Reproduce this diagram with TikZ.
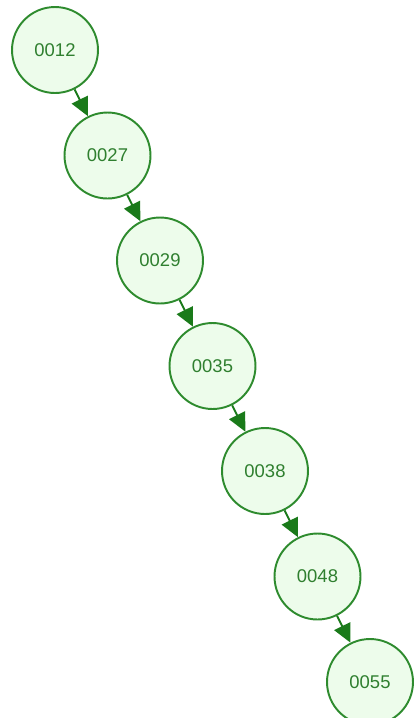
\documentclass[tikz,border=0pt]{standalone}
\usepackage{fontspec}
\setmainfont{Liberation Sans}
\usetikzlibrary{arrows.meta}
\definecolor{keyfill}{HTML}{EDFCEB}
\definecolor{keyline}{HTML}{2E8B2E}
\definecolor{keytext}{HTML}{2F7F2F}
\definecolor{linkgreen}{HTML}{1A7A1A}
\tikzset{
  keynode/.style={circle, draw=keyline, fill=keyfill, line width=1.1pt,
    minimum size=1.72cm, inner sep=0pt, text=keytext, font=\fontsize{10.5}{12}\selectfont},
  link/.style={->, draw=linkgreen, fill=linkgreen, line width=1.1pt}
}
\begin{document}
\begin{tikzpicture}[>={Triangle[length=10.5pt,width=10pt]}, x=0.02cm, y=-0.02cm]
\useasboundingbox (0,0) rectangle (415,718);
\node[keynode] (k12) at (55,50) {0012};
\node[keynode] (k27) at (107.5,155.5) {0027};
\node[keynode] (k29) at (160,260.5) {0029};
\node[keynode] (k35) at (212.5,366) {0035};
\node[keynode] (k38) at (265,471) {0038};
\node[keynode] (k48) at (317.5,576.5) {0048};
\node[keynode] (k55) at (370,682) {0055};
\draw[link] (k12)--(k27);
\draw[link] (k27)--(k29);
\draw[link] (k29)--(k35);
\draw[link] (k35)--(k38);
\draw[link] (k38)--(k48);
\draw[link] (k48)--(k55);
\end{tikzpicture}
\end{document}
